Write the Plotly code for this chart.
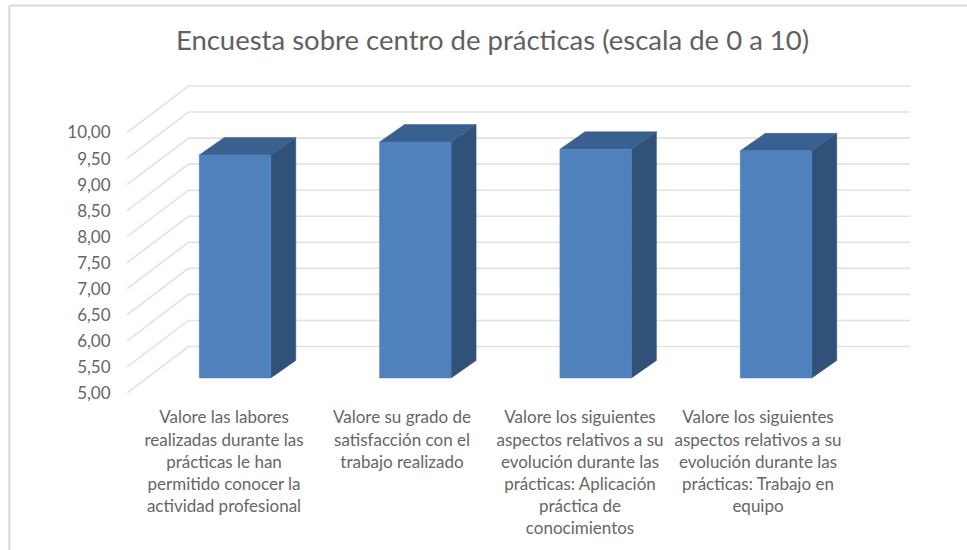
import plotly.graph_objects as go

TITLE = "Encuesta sobre centro de prácticas (escala de 0 a 10)"
categories = [
    "Valore las labores<br>realizadas durante las<br>prácticas le han<br>permitido conocer la<br>actividad profesional",
    "Valore su grado de<br>satisfacción con el<br>trabajo realizado",
    "Valore los siguientes<br>aspectos relativos a su<br>evolución durante las<br>prácticas: Aplicación<br>práctica de<br>conocimientos",
    "Valore los siguientes<br>aspectos relativos a su<br>evolución durante las<br>prácticas: Trabajo en<br>equipo",
]
values = [9.28, 9.53, 9.39, 9.36]
y_ticks = [5.0, 5.5, 6.0, 6.5, 7.0, 7.5, 8.0, 8.5, 9.0, 9.5, 10.0]
y_labels = ["5,00", "5,50", "6,00", "6,50", "7,00", "7,50", "8,00", "8,50", "9,00", "9,50", "10,00"]

W, H = 967, 550
PX_X = 180.33   # pixels per category
PX_Y = 52.1     # pixels per value unit
LEFT, RIGHT, BOTTOM = 127, 910, 393
X0 = (LEFT - 235) / PX_X
X1 = (RIGHT - 235) / PX_X
Y_TOP = 11.0
TOP = BOTTOM - (Y_TOP - 5) * PX_Y

WALL_DX = 61.5 / PX_X
WALL_DY = 46.5 / PX_Y
BAR_W = 71.5 / PX_X
BAR_DX = 25 / PX_X
BAR_DY = 17.5 / PX_Y
FLOOR = 15 / PX_Y
TICK_OFFSET = -11 / PX_X
TICK_STEP = 178 / PX_X

GRID = "#E2E2E2"
TEXT = "#666666"
FRONT, TOPC, SIDE = "#4F81BD", "#3A608F", "#305178"

fig = go.Figure()

for v in y_ticks:
    fig.add_trace(go.Scatter(
        x=[X0, X0 + WALL_DX, X1],
        y=[v, v + WALL_DY, v + WALL_DY],
        mode="lines", line=dict(color=GRID, width=1.6),
        hoverinfo="skip", showlegend=False,
    ))

def poly(xs, ys, color, text=None):
    fig.add_trace(go.Scatter(
        x=xs, y=ys, mode="lines", fill="toself", fillcolor=color,
        line=dict(color=color, width=0.5), showlegend=False,
        hoverinfo="skip" if text is None else "text", text=text,
    ))

for i, v in enumerate(values):
    l, r = i - BAR_W / 2, i + BAR_W / 2
    b, t = 5 + FLOOR, v + FLOOR
    poly([r, r + BAR_DX, r + BAR_DX, r, r], [b, b + BAR_DY, t + BAR_DY, t, b], SIDE)
    poly([l, r, r + BAR_DX, l + BAR_DX, l], [t, t, t + BAR_DY, t + BAR_DY, t], TOPC)
    poly([l, r, r, l, l], [b, b, t, t, b], FRONT, text=f"{v:.2f}".replace(".", ","))

fig.update_layout(
    width=W, height=H, autosize=False,
    margin=dict(l=0, r=0, t=0, b=0),
    paper_bgcolor="white", plot_bgcolor="white",
    font=dict(family="Lato", color=TEXT, size=17),
    title=dict(text=TITLE, x=492.5 / W, xanchor="center", y=1 - 40 / H, yanchor="middle",
               font=dict(family="Lato", size=27.5, color="#616161")),
    xaxis=dict(
        domain=[LEFT / W, RIGHT / W], range=[X0, X1], showgrid=False, zeroline=False,
        showline=False, tickmode="array",
        tickvals=[TICK_OFFSET + i * TICK_STEP for i in range(len(categories))],
        ticktext=categories, tickangle=0, ticks="outside", ticklen=9,
        tickcolor="rgba(0,0,0,0)", automargin=False,
    ),
    yaxis=dict(
        domain=[1 - BOTTOM / H, 1 - TOP / H], range=[5, Y_TOP], showgrid=False, zeroline=False,
        showline=False, tickmode="array", tickvals=y_ticks, ticktext=y_labels,
        ticks="outside", ticklen=12, tickcolor="rgba(0,0,0,0)", automargin=False,
    ),
    shapes=[
        dict(type="line", xref="paper", yref="paper", x0=9.3 / W, x1=9.3 / W, y0=0, y1=1 - 5.5 / H,
             line=dict(color="#D9D9D9", width=2)),
        dict(type="line", xref="paper", yref="paper", x0=9.3 / W, x1=1, y0=1 - 5.5 / H, y1=1 - 5.5 / H,
             line=dict(color="#D9D9D9", width=2)),
    ],
)

fig.write_html("out.html", config=dict(displayModeBar=False),
               post_script="document.body.style.margin='0';")
